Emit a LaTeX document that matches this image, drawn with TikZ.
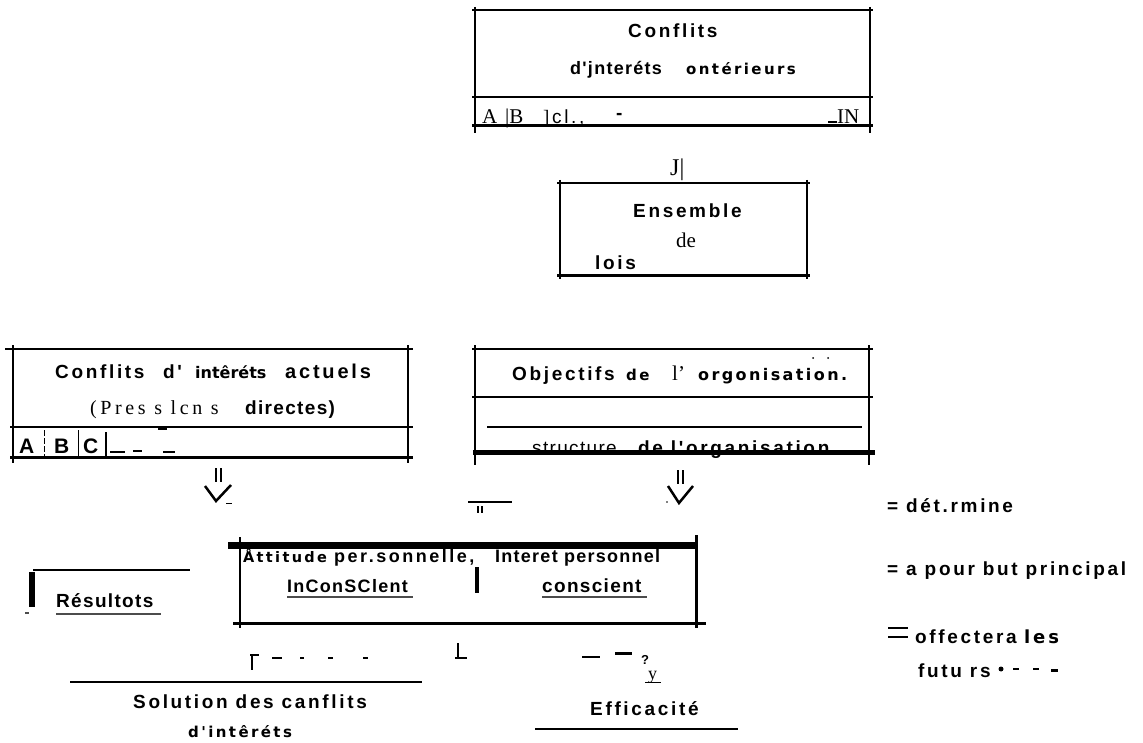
\documentclass[tikz,border=0pt]{standalone}
\usepackage{fontspec}
\setmainfont{Liberation Serif}
\newfontfamily\sfw[LetterSpace=14]{Liberation Sans}
\newfontfamily\sfn[LetterSpace=7]{Liberation Sans}
\newfontfamily\oddf[LetterSpace=16]{DejaVu Sans}
\newfontfamily\oddn{DejaVu Sans}
\newfontfamily\oddw[LetterSpace=15]{DejaVu Sans}
\newfontfamily\serw[LetterSpace=18]{Liberation Serif}
\newcommand\fSB{\sfw\bfseries\fontsize{19}{21}\selectfont}
\newcommand\fSN{\sfn\bfseries\fontsize{19}{21}\selectfont}
\newcommand\fSR{\sfw\fontsize{19}{21}\selectfont}
\newcommand\fOD{\oddf\bfseries\fontsize{15}{18}\selectfont}
\newcommand\fODN{\oddn\bfseries\fontsize{16}{18}\selectfont}
\newcommand\fODW{\oddw\bfseries\fontsize{16}{18}\selectfont}
\newcommand\fSE{\serw\fontsize{20}{22}\selectfont}
\newcommand\fSEB{\rmfamily\fontsize{21}{23}\selectfont}
\tikzset{
  rule/.style={line width=2pt},
  thin rule/.style={line width=1.4pt},
  heavy/.style={line width=3pt},
  lbl/.style={inner sep=0pt, anchor=base west},
  sb/.style={lbl, font=\fSB},
  sn/.style={lbl, font=\fSN},
  sr/.style={lbl, font=\fSR},
  od/.style={lbl, font=\fOD},
  odn/.style={lbl, font=\fODN},
  odw/.style={lbl, font=\fODW},
  se/.style={lbl, font=\fSE},
  seb/.style={lbl, font=\fSEB},
  uline/.style={line width=1.2pt, black!70},
  dashmk/.style={line width=1.6pt},
}
\begin{document}
\begin{tikzpicture}[x=1pt,y=-1pt]
\useasboundingbox (0,0) rectangle (1143,743);
\fill[white] (0,0) rectangle (1143,743);

% ---------- top box: Conflits d'interets anterieurs
\draw[rule] (472,10) -- (873,10);
\draw[rule] (475,7) -- (475,133);
\draw[rule] (870,7) -- (870,133);
\draw[rule] (472,97) -- (873,97);
\draw[heavy] (472,126) -- (873,126);
\node[sb] (t1) at (628,38) {Conflits};
\node[sn, font=\sfn\bfseries\fontsize{18}{20}\selectfont] (t2) at (570,75) {d'jnteréts};
\node[od] (t3) at (686,75) {ontérieurs};
\node[seb] (ta) at (482,124) {A};
\node[seb] (tb) at (505,124) {|B};
\node[seb, font=\rmfamily\fontsize{19}{20}\selectfont] (tbr) at (543,124) {]};
\node[sr] (tc) at (552,124) {cl.,};
\node[sb] (td) at (616,120) {-};
\draw[line width=1.2pt] (828,122) -- (837,122);
\node[seb] (tn) at (837,124) {IN};

% arrow J|
\node[seb, font=\rmfamily\fontsize{24}{26}\selectfont] (a0) at (670,176) {J|};

% ---------- Ensemble de lois
\draw[thin rule] (557,183) -- (810,183);
\draw[thin rule] (560,180) -- (560,279);
\draw[thin rule] (807,180) -- (807,279);
\draw[heavy] (557,276) -- (810,276);
\node[sb] (e1) at (633,218) {Ensemble};
\node[se, font=\rmfamily\fontsize{21}{22}\selectfont] (e2) at (676,248) {de};
\node[sb] (e3) at (595,270) {lois};

% ---------- left box: Conflits d'interets actuels
\draw[rule] (5,349) -- (413,349);
\draw[rule] (13,345) -- (13,463);
\draw[rule] (408,345) -- (408,463);
\draw[thin rule] (10,427) -- (413,427);
\draw[heavy] (10,457) -- (413,457);
\node[sb] (l1) at (55,378) {Conflits};
\node[sb] (l2) at (163,378) {d'};
\node[odn] (l3) at (195,378) {intêréts};
\node[sb, font=\sfw\bfseries\fontsize{20}{22}\selectfont] (l4) at (285,378) {actuels};
\node[se] (l5) at (90,414) {(Pres s lcn s};
\node[sn] (l6) at (245,414) {directes)};
\node[sb, font=\sfn\bfseries\fontsize{21}{22}\selectfont] (la) at (19,453) {A};
\node[sb, font=\sfn\bfseries\fontsize{21}{22}\selectfont] (lb) at (54,453) {B};
\node[sb, font=\sfn\bfseries\fontsize{21}{22}\selectfont] (lc) at (83,453) {C};
\draw[line width=1pt, dash pattern=on 6pt off 2pt] (44,430) -- (44,456);
\draw[line width=1pt] (78,430) -- (78,456);
\draw[line width=1.6pt] (106,432) -- (106,458);
\draw[dashmk] (110,452) -- (125,452);
\draw[dashmk] (133,451) -- (142,451);
\draw[dashmk] (163,452) -- (175,452);
\draw[dashmk] (158,429) -- (167,429);

% ---------- right box: Objectifs / structure
\node[sr, font=\sfn\fontsize{19}{21}\selectfont] (r5) at (532,454) {structure};
\node[sb] (r6) at (638,454) {de l'organisation};
\draw[rule] (472,349) -- (873,349);
\draw[rule] (475,345) -- (475,465);
\draw[rule] (869,345) -- (869,465);
\draw[thin rule] (472,397) -- (873,397);
\draw[rule] (487,427) -- (862,427);
\draw[line width=5pt] (473,452) -- (875,452);
\node[sb] (r1) at (512,380) {Objectifs};
\node[od] (r2) at (626,380) {de};
\node[seb] (r3) at (672,380) {l'};
\node[odw] (r4) at (698,380) {orgonisation.};
\fill (813,358) circle (1pt) (828,358) circle (1pt);

% ---------- arrows
\draw[line width=1.5pt] (216,468) -- (216,482) (221,468) -- (221,482);
\draw[line width=2.5pt] (205,486) -- (216,501) -- (231,485);
\draw[line width=0.8pt] (226,503) -- (232,503);
\draw[line width=2.5pt] (678,470) -- (678,484) (683,470) -- (683,484);
\draw[line width=2.5pt] (668,486) -- (679,503) -- (693,486);
\fill (667,502) circle (0.8pt);
\draw[thin rule] (468,502) -- (512,502);
\draw[line width=1.2pt] (478,506) -- (478,513) (482,506) -- (482,513);

% ---------- Attitude box
\draw[line width=7pt] (228,545) -- (697,545);
\draw[rule] (240,537) -- (240,628);
\draw[line width=3pt] (696,535) -- (696,628);
\draw[heavy] (233,623) -- (706,623);
\draw[line width=4pt] (477,567) -- (477,593);
\node[od, font=\oddf\bfseries\fontsize{14.5}{17}\selectfont] (m1) at (243,562) {Åttitude};
\node[sb, font=\sfw\bfseries\fontsize{18}{20}\selectfont] (m2) at (334,562) {per.sonnelle,};
\node[sn, font=\sfn\bfseries\fontsize{18}{20}\selectfont] (m3) at (495,562) {Interet personnel};
\node[sb, font=\sfn\bfseries\fontsize{18}{20}\selectfont] (m4) at (287,592) {InConSClent};
\draw[uline] (287,597) -- (413,597);
\node[sn] (m5) at (542,592) {conscient};
\draw[uline] (542,597) -- (647,597);

% ---------- Resultats
\draw[rule] (33,570) -- (190,570);
\draw[line width=6pt] (32,572) -- (32,607);
\draw[uline] (25,613) -- (29,613);
\node[sn] (res) at (56,607) {Résultots};
\draw[uline] (56,614) -- (161,614);

% ---------- bottom
\draw[line width=2pt] (250,655) -- (259,655);
\draw[line width=1.2pt] (252,655) -- (252,670);
\draw[dashmk] (272,658) -- (282,658);
\draw[dashmk] (300,658) -- (304,658);
\draw[dashmk] (328,658) -- (333,658);
\draw[dashmk] (363,658) -- (368,658);
\draw[thin rule] (70,682) -- (422,682);
\node[sb] (s1) at (133,708) {Solution des canflits};
\node[od] (s2) at (188,737) {d'intêréts};

\draw[line width=1.4pt] (458,643) -- (458,657);
\draw[line width=1.2pt] (455,658) -- (467,658);
\draw[line width=1.4pt] (582,657) -- (600,657);
\draw[line width=3pt] (615,653) -- (632,653);
\node[sb, font=\sfn\bfseries\fontsize{13}{14}\selectfont] (q) at (641,664) {?};
\node[se, font=\rmfamily\fontsize{18}{18}\selectfont] (yy) at (648,679) {y};
\draw[line width=1pt] (645,682) -- (661,682);
\node[sb] (ef) at (590,715) {Efficacité};
\draw[thin rule] (535,729) -- (738,729);

% ---------- legend
\node[sb] (g1) at (887,512) {= dét.rmine};
\node[sb] (g2) at (887,575) {= a pour but principal};
\draw[line width=2pt] (888,628) -- (908,628) (888,637) -- (908,637);
\node[sb] (g3) at (915,643) {offectera};
\node[od, font=\oddf\bfseries\fontsize{18}{20}\selectfont] (g4) at (1024,643) {les};
\node[sb] (g5) at (918,677) {futu rs};
\fill (1001,669) circle (2.5pt);
\draw[dashmk] (1013,669) -- (1019,669) (1033,669) -- (1039,669);
\draw[line width=3pt] (1051,670) -- (1058,670);
\end{tikzpicture}
\end{document}
